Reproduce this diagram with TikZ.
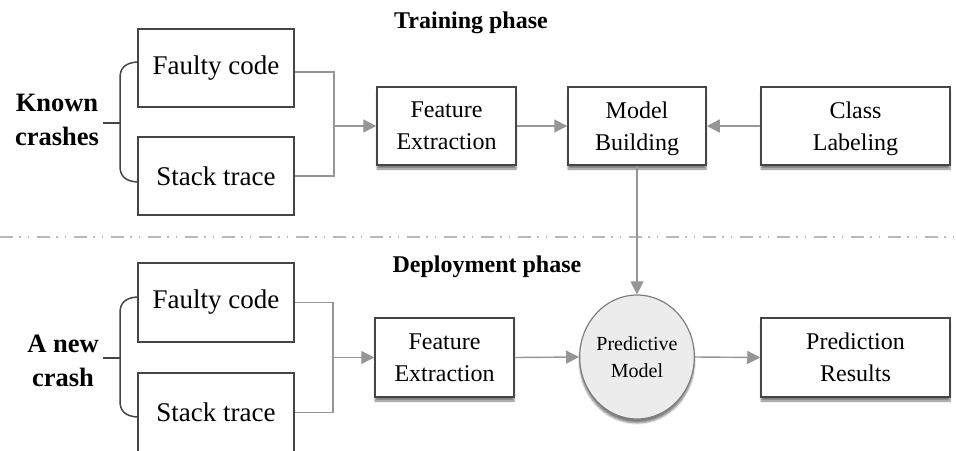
\documentclass[tikz,border=0pt]{standalone}
\usepackage{fontspec}
\setmainfont{Liberation Serif}
\usetikzlibrary{arrows.meta,shapes.geometric,shadows.blur}

\definecolor{boxline}{HTML}{454545}
\definecolor{wire}{HTML}{969696}
\definecolor{sep}{HTML}{B8B8B8}
\definecolor{ballfill}{HTML}{ECECEC}
\definecolor{ballline}{HTML}{7E7E7E}

\tikzset{
  stagebox/.style={draw=boxline, line width=1.5pt, fill=white, rectangle,
    align=center, inner sep=0pt, text depth=0pt,
    blur shadow={shadow xshift=0pt, shadow yshift=-4pt, shadow blur steps=6, shadow opacity=50},
    font=\fontsize{24}{32}\selectfont},
  sourcebox/.style={draw=boxline, line width=1.5pt, fill=white, rectangle,
    align=center, inner sep=0pt, minimum width=156pt,
    font=\fontsize{27}{32}\selectfont},
  ball/.style={draw=ballline, line width=1.2pt, fill=ballfill, ellipse,
    inner sep=0pt, minimum width=112pt, minimum height=124pt, align=center,
    blur shadow={shadow xshift=0pt, shadow yshift=-4pt, shadow blur steps=6, shadow opacity=50},
    font=\fontsize{20}{27}\selectfont},
  crashlabel/.style={align=center, font=\bfseries\fontsize{26.5}{34}\selectfont},
  phaselabel/.style={font=\bfseries\fontsize{24}{28}\selectfont},
  wireline/.style={draw=wire, line width=1.4pt},
  arr/.style={wireline, -{Triangle[length=13pt,width=13pt]}, color=wire},
  brace/.style={draw=boxline, line width=1.5pt},
}

\begin{document}
\begin{tikzpicture}[x=1pt, y=-1pt]
\useasboundingbox (0,0) rectangle (956,450);
\clip (0,0) rectangle (956,450);

% phase separator
\draw[sep, line width=1.3pt, dash pattern=on 13pt off 6pt on 1.5pt off 7pt on 1.5pt off 8pt]
  (0,237) -- (956,237);

% ---------- training phase ----------
\node[phaselabel] (tp) at (471,23) {Training phase};

\node[sourcebox, minimum height=78pt] (fc1) at (216,68) {Faulty code};
\node[sourcebox, minimum height=78pt] (st1) at (216,176) {Stack trace};
\node[crashlabel] (known) at (57,120) {Known\\crashes};

\draw[brace] (137,62) .. controls (125,63) and (120,68) .. (120,78)
  -- (120,166) .. controls (120,176) and (125,181) .. (137,182);
\draw[brace] (120,123) -- (103,123);

\node[stagebox, minimum width=139pt, minimum height=78pt] (fe1) at (446.5,126) {Feature\\Extraction};
\node[stagebox, minimum width=138pt, minimum height=78pt] (mb) at (637,126) {Model\\Building};
\node[stagebox, minimum width=189pt, minimum height=78pt] (cl) at (855.5,126) {Class\\Labeling};

\coordinate (j1) at (334,126);
\draw[wireline] ([yshift=-4pt]fc1.east) -| (j1) |- (st1.east);
\draw[arr] (j1) -- (fe1.west);
\draw[arr] (fe1.east) -- (mb.west);
\draw[arr] (cl.west) -- (mb.east);

% ---------- deployment phase ----------
\node[phaselabel] (dp) at (487,267) {Deployment phase};

\node[sourcebox, minimum height=79pt] (fc2) at (216,302.5) {Faulty code};
\node[sourcebox, minimum height=79pt] (st2) at (216,412.5) {Stack trace};
\node[crashlabel] (newc) at (63,361) {A new\\crash};

\draw[brace] (137,297) .. controls (125,298) and (120,303) .. (120,313)
  -- (120,401) .. controls (120,411) and (125,416) .. (137,417);
\draw[brace] (120,358) -- (103,358);

\node[stagebox, minimum width=139pt, minimum height=79pt] (fe2) at (444.5,357.5) {Feature\\Extraction};
\node[ball] (pm) at (637,357) {Predictive\\Model};
\node[stagebox, minimum width=189pt, minimum height=79pt] (pr) at (855.5,357.5) {Prediction\\Results};

\coordinate (j2) at (333,357.5);
\draw[wireline] (fc2.east) -| (j2) |- (st2.east);
\draw[arr] (j2) -- (fe2.west);
\draw[arr] (fe2.east) -- (pm.west);
\draw[arr] (pm.east) -- (pr.west);

% trained model handed over to deployment
\draw[arr] (mb.south) -- (pm.north);
\end{tikzpicture}
\end{document}
